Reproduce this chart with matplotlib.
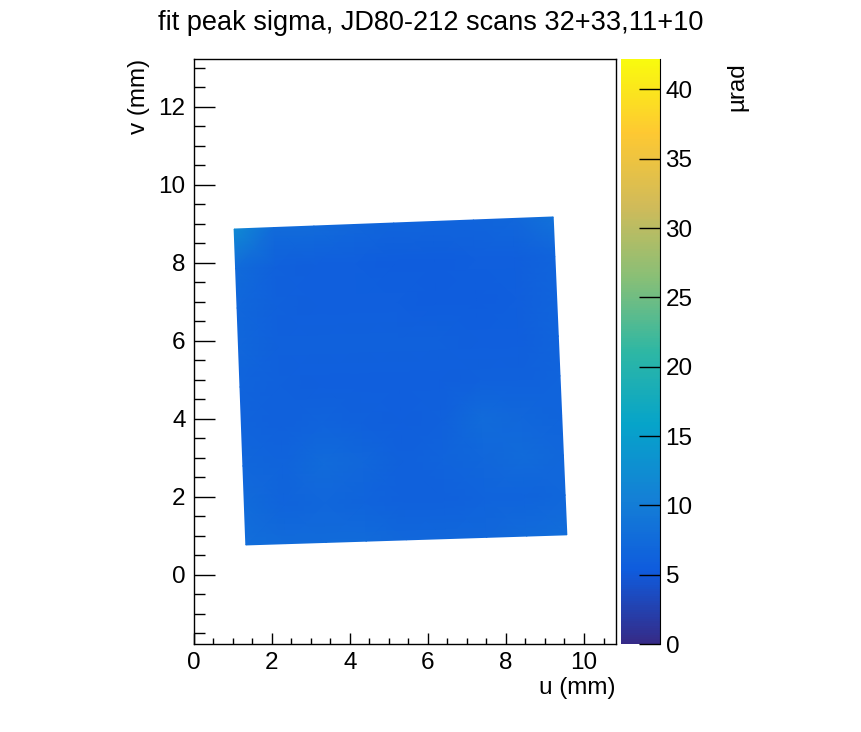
import numpy as np
import matplotlib
matplotlib.use('Agg')
import matplotlib.pyplot as plt
from matplotlib.colors import LinearSegmentedColormap
from matplotlib.ticker import MultipleLocator

# corners of the scanned crystal (u, v) in mm
corner_bl = (1.33, 0.77)
corner_br = (9.56, 1.03)
corner_tl = (1.03, 8.87)
corner_tr = (9.21, 9.18)

# estimated fit sigma (urad) on a coarse 9x9 grid, row 0 = bottom edge
sigma = [
    [8.0, 7.5, 7.5, 7.5, 7.0, 7.0, 7.0, 7.5, 8.0],
    [7.5, 6.5, 7.0, 6.5, 6.0, 6.0, 6.5, 6.5, 7.0],
    [7.0, 6.5, 7.5, 7.0, 6.0, 6.5, 7.0, 7.5, 7.0],
    [6.5, 6.0, 6.5, 6.0, 5.8, 6.0, 7.5, 7.0, 6.5],
    [6.5, 6.0, 5.8, 5.8, 5.8, 5.8, 6.0, 6.0, 6.5],
    [7.0, 6.0, 6.0, 6.0, 6.0, 6.0, 5.8, 5.8, 6.5],
    [7.0, 6.0, 5.8, 5.8, 5.8, 5.5, 5.5, 5.8, 6.5],
    [7.5, 6.0, 5.8, 5.8, 5.5, 5.5, 5.8, 5.8, 6.5],
    [12.0, 7.5, 7.5, 7.0, 6.5, 6.5, 6.5, 7.0, 8.5],
]

z_max = 42.2
cbar_ticks = [0, 5, 10, 15, 20, 25, 30, 35, 40]

# ROOT kBird palette
bird_stops = [0.0, 0.125, 0.25, 0.375, 0.5, 0.625, 0.75, 0.875, 1.0]
bird_r = [0.2082, 0.0592, 0.0780, 0.0232, 0.1802, 0.5301, 0.8186, 0.9956, 0.9764]
bird_g = [0.1664, 0.3599, 0.5041, 0.6419, 0.7178, 0.7492, 0.7328, 0.7862, 0.9832]
bird_b = [0.5293, 0.8684, 0.8385, 0.7914, 0.6425, 0.4662, 0.3499, 0.1968, 0.0539]


def main():
    plt.rcParams['font.family'] = ['Liberation Sans', 'DejaVu Sans']
    cmap = LinearSegmentedColormap.from_list(
        'bird', list(zip(bird_stops, zip(bird_r, bird_g, bird_b))))

    z = np.array(sigma)
    ny, nx = z.shape
    s = np.linspace(0, 1, nx)[None, :]
    t = np.linspace(0, 1, ny)[:, None]
    uu = ((1 - s) * (1 - t) * corner_bl[0] + s * (1 - t) * corner_br[0]
          + (1 - s) * t * corner_tl[0] + s * t * corner_tr[0])
    vv = ((1 - s) * (1 - t) * corner_bl[1] + s * (1 - t) * corner_br[1]
          + (1 - s) * t * corner_tl[1] + s * t * corner_tr[1])

    fig = plt.figure(figsize=(8.62, 7.32), dpi=100)
    ax = fig.add_axes([0.225, 0.1202, 0.4896, 0.7992])
    mesh = ax.pcolormesh(uu, vv, z, cmap=cmap, vmin=0, vmax=z_max,
                         shading='gouraud')
    ax.set_xlim(0, 10.82)
    ax.set_ylim(-1.77, 13.23)

    ax.xaxis.set_major_locator(MultipleLocator(2))
    ax.xaxis.set_minor_locator(MultipleLocator(0.5))
    ax.yaxis.set_major_locator(MultipleLocator(2))
    ax.yaxis.set_minor_locator(MultipleLocator(0.5))
    ax.tick_params(which='both', direction='in', top=False, right=False,
                   labelsize=17.5, width=1)
    ax.tick_params(axis='x', which='major', length=8, pad=6)
    ax.tick_params(axis='x', which='minor', length=4)
    ax.tick_params(axis='y', which='major', length=15, pad=6)
    ax.tick_params(axis='y', which='minor', length=8)
    for sp in ax.spines.values():
        sp.set_linewidth(1)

    ax.set_xlabel('u (mm)', fontsize=17.5, loc='right', labelpad=2)
    ax.set_ylabel('v (mm)', fontsize=17.5, loc='top', labelpad=6)
    fig.text(0.5, 0.968, 'fit peak sigma, JD80-212 scans 32+33,11+10',
             fontsize=19.5, ha='center', va='center')

    cax = fig.add_axes([0.7204, 0.1202, 0.0452, 0.7992])
    cb = fig.colorbar(mesh, cax=cax)
    cb.set_ticks(cbar_ticks)
    cb.outline.set_linewidth(0)
    cax.spines['right'].set_visible(True)
    cax.tick_params(direction='in', length=15, width=1, labelsize=17.5, pad=4)
    cax.minorticks_off()
    fig.text(0.855, 0.915, 'µrad', fontsize=17.5, rotation=90,
             ha='center', va='top')

    fig.savefig('out.png', dpi=100)


if __name__ == '__main__':
    main()
